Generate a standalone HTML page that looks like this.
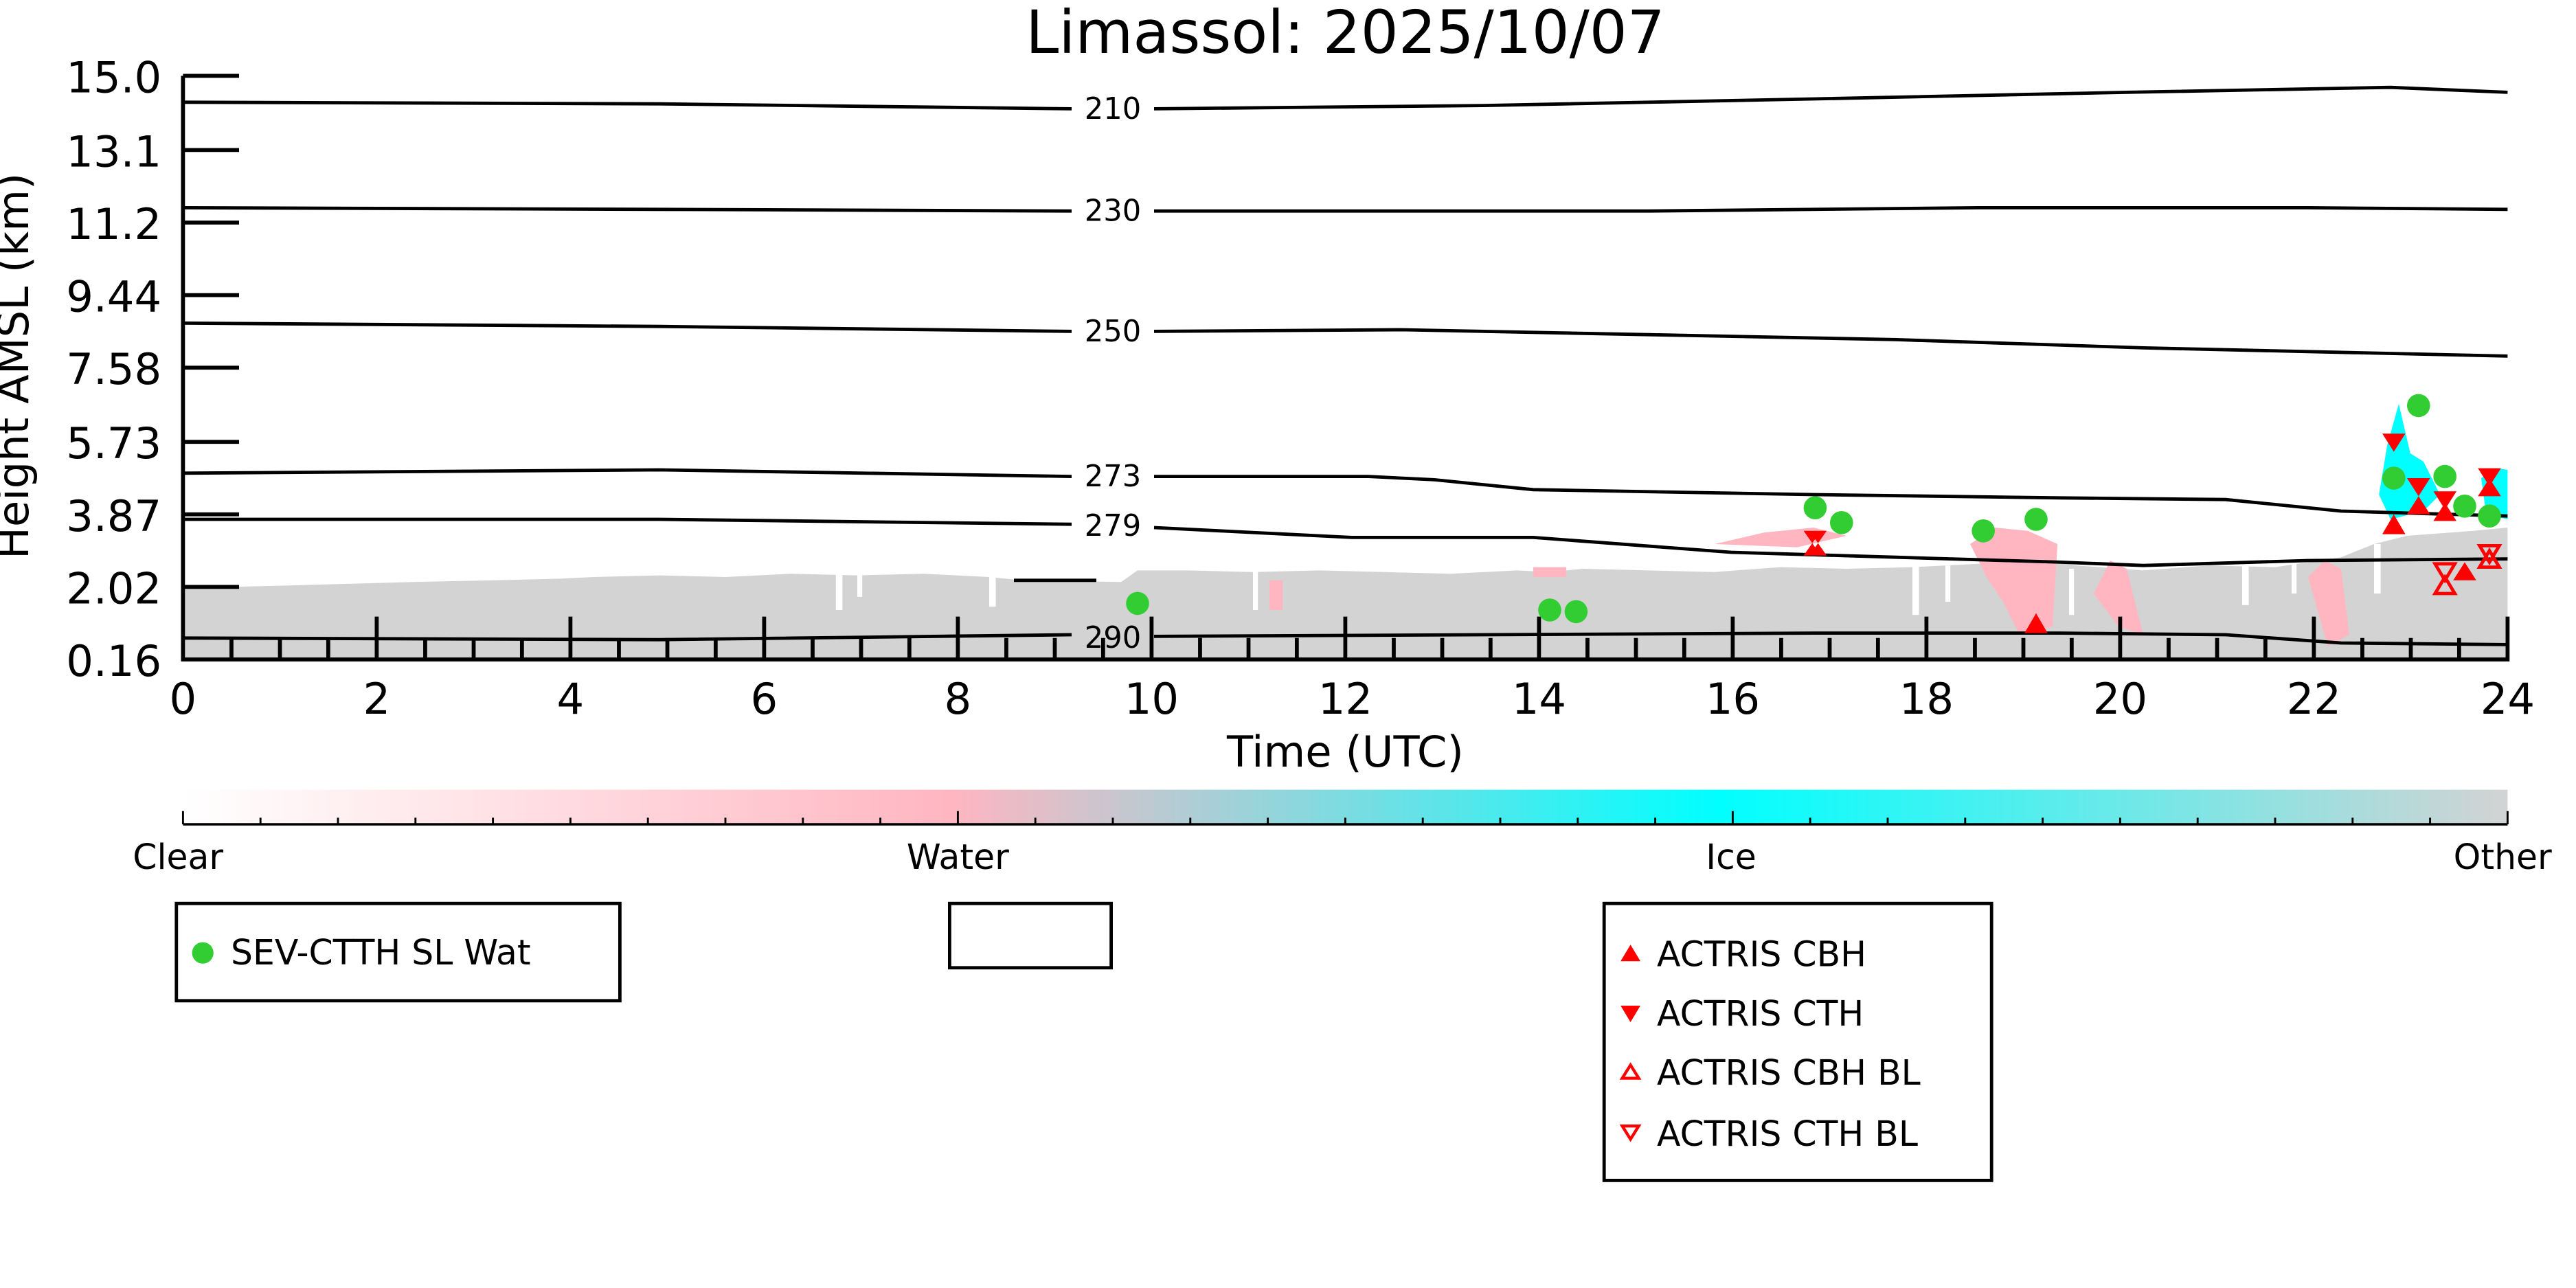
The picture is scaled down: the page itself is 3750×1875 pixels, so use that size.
<!DOCTYPE html>
<html><head><meta charset="utf-8"><style>html,body{margin:0;padding:0;background:#fff}svg{display:block}</style></head>
<body>
<svg width="3750" height="1875" viewBox="0 0 1562.5 781.25" xmlns="http://www.w3.org/2000/svg" font-family="'DejaVu Sans','Liberation Sans',sans-serif">
<defs>
<linearGradient id="cb" x1="0" x2="1" y1="0" y2="0">
<stop offset="0" stop-color="#ffffff"/>
<stop offset="0.33" stop-color="#ffb6c1"/>
<stop offset="0.66" stop-color="#00ffff"/>
<stop offset="1" stop-color="#d3d3d3"/>
</linearGradient>
</defs>
<rect width="1562.5" height="781.25" fill="#fff"/>
<text x="816" y="32" font-size="36" text-anchor="middle">Limassol: 2025/10/07</text>

<!-- cloud mask gray -->
<path fill="#d3d3d3" d="M111,357 L140,356 L180,355 L250,353 L300,352 L340,351 L360,350 L400,349 L440,350 L480,348 L520,349 L560,348 L600,350 L620,352 L680,353 L690,346 L720,346 L760,347 L800,346 L840,347 L880,348 L920,346 L940,347 L960,345 L1000,346 L1040,347 L1080,344 L1120,345 L1160,344 L1200,342 L1240,340 L1260,343 L1300,346 L1340,343 L1380,344 L1420,338 L1440,330 L1460,325 L1500,322 L1521,320 L1521,400 L111,400 Z"/>
<!-- white gaps -->
<g fill="#fff">
<rect x="507" y="348" width="4" height="22"/><rect x="520" y="348" width="3" height="14"/>
<rect x="600" y="350" width="4" height="18"/><rect x="760" y="345" width="3" height="25"/>
<rect x="1160" y="343" width="4" height="30"/><rect x="1180" y="343" width="3" height="22"/>
<rect x="1255" y="345" width="3" height="28"/><rect x="1360" y="342" width="4" height="25"/>
<rect x="1390" y="340" width="3" height="20"/><rect x="1440" y="330" width="4" height="30"/>
</g>
<!-- pink -->
<g fill="#ffb6c1">
<path d="M1040,330 L1070,323 L1100,320 L1120,325 L1090,332 Z"/>
<path d="M1195,330 L1210,320 L1230,322 L1248,330 L1245,380 L1225,385 L1215,365 L1205,350 Z"/>
<path d="M1270,360 L1280,340 L1290,345 L1300,385 L1285,380 Z"/>
<path d="M1400,350 L1410,340 L1420,345 L1425,385 L1412,392 Z"/>
<rect x="930" y="344" width="20" height="6"/>
<rect x="770" y="352" width="8" height="18"/>
</g>
<!-- cyan -->
<g fill="#00ffff">
<path d="M1443,300 L1448,270 L1455,245 L1462,275 L1470,280 L1480,300 L1470,310 L1450,315 Z"/>
<path d="M1505,290 L1515,284 L1521,285 L1521,315 L1508,312 Z"/>
</g>

<!-- contours -->
<g fill="none" stroke="#000" stroke-width="2">
<polyline points="111,62 400,63 650,66"/><polyline points="700,66 900,64 1100,60 1290,56 1450,53 1521,56"/>
<polyline points="111,126 400,127 650,128"/><polyline points="700,128 1000,128 1200,126 1400,126 1521,127"/>
<polyline points="111,196 400,198 650,201"/><polyline points="700,201 850,200 1000,203 1150,206 1300,211 1521,216"/>
<polyline points="111,287 400,285 650,289"/><polyline points="700,289 830,289 870,291 930,297 1100,300 1250,302 1350,303 1420,310 1521,313"/>
<polyline points="111,315 400,315 650,318"/><polyline points="700,320 820,326 930,326 1050,335 1150,338 1250,341 1300,343 1400,340 1521,339"/>
<polyline points="111,387 400,388 650,385"/><polyline points="700,386 900,385 1100,384 1250,384 1350,385 1420,390 1521,391"/>
<line x1="615" y1="352" x2="665" y2="352"/>
</g>
<g font-size="18" text-anchor="middle">
<text x="675" y="72">210</text><text x="675" y="134">230</text><text x="675" y="207">250</text>
<text x="675" y="295">273</text><text x="675" y="325">279</text><text x="675" y="393">290</text>
</g>

<!-- axes -->
<g stroke="#000" stroke-width="2.4" fill="none">
<polyline points="111,46 111,400 1521,400 1521,374"/>
<path d="M111,46h34M111,91h34M111,135h34M111,179h34M111,223h34M111,268h34M111,312h34M111,356h34"/>
<path d="M228.5,400v-26M346,400v-26M463.5,400v-26M581,400v-26M698.5,400v-26M816,400v-26M933.5,400v-26M1051,400v-26M1168.5,400v-26M1286,400v-26M1403.5,400v-26"/>
<path d="M140.4,400v-13M169.8,400v-13M199.1,400v-13M257.9,400v-13M287.3,400v-13M316.6,400v-13M375.4,400v-13M404.8,400v-13M434.1,400v-13M492.9,400v-13M522.3,400v-13M551.6,400v-13M610.4,400v-13M639.8,400v-13M669.1,400v-13M727.9,400v-13M757.3,400v-13M786.6,400v-13M845.4,400v-13M874.8,400v-13M904.1,400v-13M962.9,400v-13M992.3,400v-13M1021.6,400v-13M1080.4,400v-13M1109.8,400v-13M1139.1,400v-13M1197.9,400v-13M1227.3,400v-13M1256.6,400v-13M1315.4,400v-13M1344.8,400v-13M1374.1,400v-13M1432.9,400v-13M1462.3,400v-13M1491.6,400v-13"/>
</g>
<g font-size="26" text-anchor="end">
<text x="98" y="56">15.0</text><text x="98" y="101">13.1</text><text x="98" y="145">11.2</text>
<text x="98" y="189">9.44</text><text x="98" y="233">7.58</text><text x="98" y="278">5.73</text>
<text x="98" y="322">3.87</text><text x="98" y="366">2.02</text><text x="98" y="410">0.16</text>
</g>
<g font-size="26" text-anchor="middle">
<text x="111" y="433">0</text><text x="228.5" y="433">2</text><text x="346" y="433">4</text><text x="463.5" y="433">6</text>
<text x="581" y="433">8</text><text x="698.5" y="433">10</text><text x="816" y="433">12</text><text x="933.5" y="433">14</text>
<text x="1051" y="433">16</text><text x="1168.5" y="433">18</text><text x="1286" y="433">20</text><text x="1403.5" y="433">22</text><text x="1521" y="433">24</text>
<text x="816" y="465">Time (UTC)</text>
<text transform="translate(17,222) rotate(-90)" font-size="26">Height AMSL (km)</text>
</g>

<!-- markers -->
<g fill="#32cd32">
<circle cx="690" cy="366" r="7"/><circle cx="940" cy="370" r="7"/><circle cx="956" cy="371" r="7"/>
<circle cx="1101" cy="308" r="7"/><circle cx="1117" cy="317" r="7"/><circle cx="1203" cy="322" r="7"/>
<circle cx="1235" cy="315" r="7"/><circle cx="1452" cy="290" r="7"/><circle cx="1467" cy="246" r="7"/>
<circle cx="1483" cy="289" r="7"/><circle cx="1495" cy="307" r="7"/><circle cx="1510" cy="313" r="7"/>
</g>
<g fill="#f00">
<path d="M1094,322h14l-7,10z M1094,337h14l-7,-10z"/>
<path d="M1228,384h14l-7,-12z"/>
<path d="M1445,324h14l-7,-12z"/><path d="M1445,263h14l-7,11z"/>
<path d="M1460,290h14l-7,11z"/><path d="M1460,312h14l-7,-11z"/>
<path d="M1476,298h14l-7,11z"/><path d="M1476,316h14l-7,-11z"/>
<path d="M1488,352h14l-7,-11z"/><path d="M1503,284h14l-7,11z"/><path d="M1503,301h14l-7,-11z"/>
</g>
<g fill="none" stroke="#f00" stroke-width="2">
<path d="M1477,342h12l-6,10z M1477,360h12l-6,-10z"/>
<path d="M1504,331h12l-6,10z M1504,344h12l-6,-10z"/>
</g>

<!-- colorbar -->
<rect x="111" y="479" width="1410" height="21" fill="url(#cb)"/>
<line x1="111" y1="500" x2="1521" y2="500" stroke="#000" stroke-width="1.5"/>
<g stroke="#000" stroke-width="1.2">
<path d="M111,500v-8M158,500v-4M205,500v-4M252,500v-4M299,500v-4M346,500v-4M393,500v-4M440,500v-4M487,500v-4M534,500v-4M581,500v-8M628,500v-4M675,500v-4M722,500v-4M769,500v-4M816,500v-4M863,500v-4M910,500v-4M957,500v-4M1004,500v-4M1051,500v-8M1098,500v-4M1145,500v-4M1192,500v-4M1239,500v-4M1286,500v-4M1333,500v-4M1380,500v-4M1427,500v-4M1474,500v-4M1521,500v-8"/>
</g>
<g font-size="21" text-anchor="middle">
<text x="108" y="527">Clear</text><text x="581" y="527">Water</text><text x="1050" y="527">Ice</text><text x="1518" y="527">Other</text>
</g>

<!-- legends -->
<g fill="none" stroke="#000" stroke-width="2">
<rect x="107" y="548" width="269" height="59"/>
<rect x="576" y="548" width="98" height="39"/>
<rect x="973" y="548" width="235" height="168"/>
</g>
<circle cx="123" cy="578" r="6.5" fill="#32cd32"/>
<text x="140" y="585" font-size="21">SEV-CTTH SL Wat</text>
<path d="M983,583h12l-6,-10z M983,610h12l-6,10z" fill="#f00"/>
<path d="M984,654h10l-5,-8z M984,683h10l-5,8z" fill="none" stroke="#f00" stroke-width="1.8"/>
<g font-size="21">
<text x="1005" y="586">ACTRIS CBH</text><text x="1005" y="622">ACTRIS CTH</text>
<text x="1005" y="658">ACTRIS CBH BL</text><text x="1005" y="695">ACTRIS CTH BL</text>
</g>
</svg>
</body></html>
